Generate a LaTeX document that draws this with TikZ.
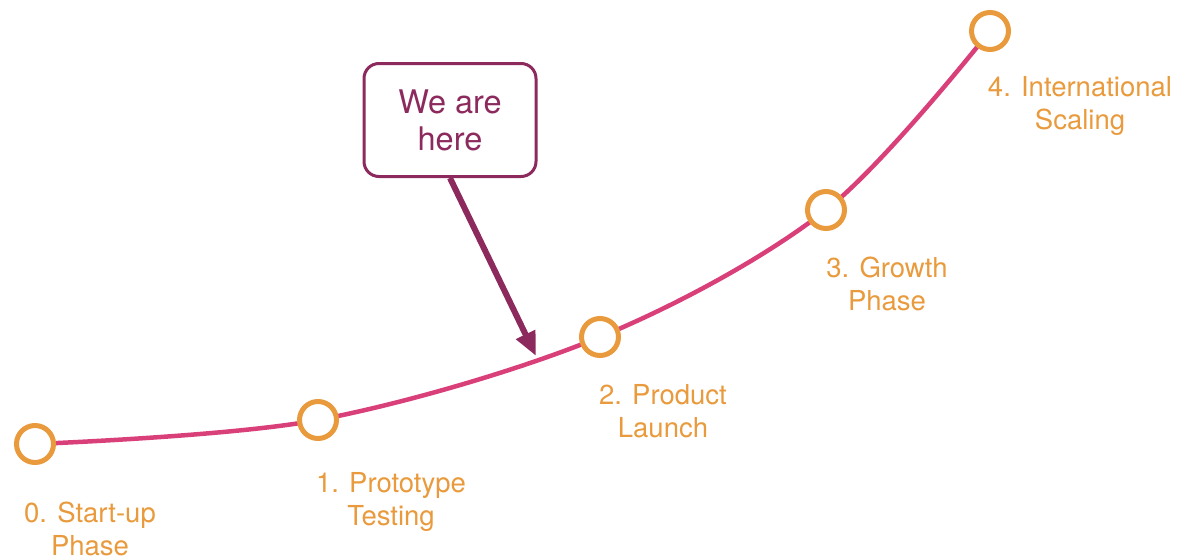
\documentclass[tikz,border=0pt]{standalone}
\usepackage{fontspec}
\setmainfont{TeX Gyre Heros}
\usetikzlibrary{arrows.meta}
\definecolor{orng}{HTML}{E99A3C}
\definecolor{pnk}{HTML}{D9407A}
\definecolor{plum}{HTML}{8C2A5E}
\begin{document}
\begin{tikzpicture}[x=1pt,y=-1pt,
  stage/.style={circle,draw=orng,line width=5pt,fill=white,minimum size=37pt,inner sep=0pt},
  lbl/.style={text=orng,align=center,font=\fontsize{27.5}{33}\selectfont,inner sep=0pt},
  callout/.style={draw=plum,line width=3pt,rounded corners=15pt,minimum width=172pt,minimum height=113pt,text=plum,align=center,font=\fontsize{32.5}{37}\selectfont,fill=white}]
\useasboundingbox (0,0) rectangle (1183,557);
\draw[pnk,line width=4.5pt] plot[smooth,tension=0.55] coordinates {(35,444) (318,420) (600,337) (826,210) (990,31)};
\node[stage] (s0) at (35,444) {};
\node[stage] (s1) at (318,420) {};
\node[stage] (s2) at (600,337) {};
\node[stage] (s3) at (826,210) {};
\node[stage] (s4) at (990,31) {};
\node[lbl] (l0) at (90,529) {0. Start-up\\Phase};
\node[lbl] (l1) at (391,502) {1. Prototype\\Testing};
\node[lbl] (l2) at (663,411) {2. Product\\Launch};
\node[lbl] (l3) at (887,284) {3. Growth\\Phase};
\node[lbl] (l4) at (1080,106) {4. International\\Scaling};
\node[callout] (box) at (450,120) {We are\\here};
\coordinate (tip) at (536,356);
\draw[plum,line width=6pt,-{Triangle[length=24pt,width=20pt]}] (box.south) -- (tip);
\end{tikzpicture}
\end{document}
